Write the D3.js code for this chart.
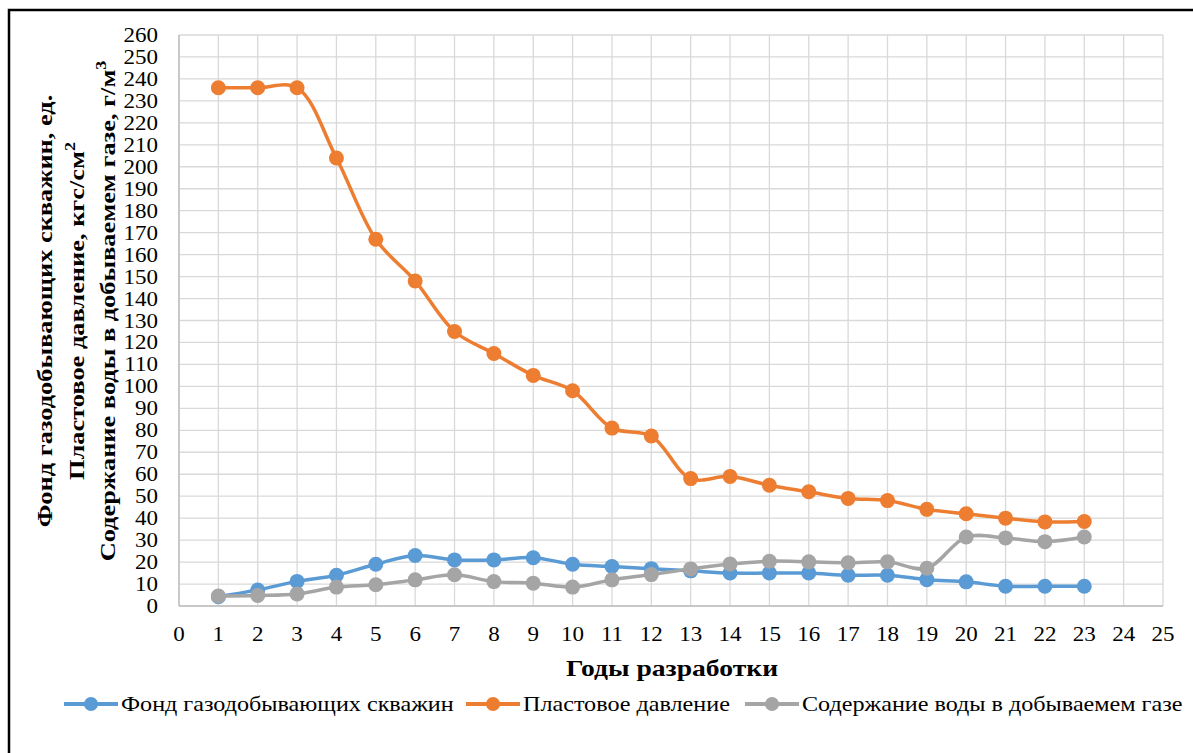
<!DOCTYPE html>
<html>
<head>
<meta charset="utf-8">
<script src="https://cdn.jsdelivr.net/npm/d3@7"></script>
</head>
<body style="margin:0">
<div id="chart"></div>
<script>
// years and values
const years = d3.range(1, 24);
const wells = [4.2, 7.3, 11.2, 14, 19, 23, 21, 21, 22, 19, 18, 17, 16, 15, 15, 15, 14, 14, 12, 11, 9, 9, 9];
const pressure = [236, 236, 236, 204, 167, 148, 125, 115, 105, 98, 81, 77.4, 58, 59, 55, 52, 49, 48, 44, 42, 40, 38.3, 38.5];
const water = [4.5, 4.8, 5.5, 8.6, 9.7, 11.9, 14.2, 11.1, 10.4, 8.6, 11.9, 14.3, 16.9, 19.1, 20.4, 20.1, 19.7, 20.1, 17.2, 31.4, 31, 29.3, 31.4];
const seriesNames = ["Фонд газодобывающих скважин", "Пластовое давление", "Содержание воды в добываемем газе"];
const colors = ["#5B9BD5", "#ED7D31", "#A5A5A5"];

const serif = "Liberation Serif";
const sx = 1.15; // the source text is a bit wider than the font

let width = 1193,
    height = 753,
    margin = ({top: 35, right: 30, bottom: 147, left: 179});

const svg = d3.select("#chart")
    .append("svg")
    .attr("width", width)
    .attr("height", height)
    .attr("font-family", serif);

// outer frame
svg.append("rect")
    .attr("x", 9).attr("y", 10)
    .attr("width", width).attr("height", height)
    .attr("fill", "none")
    .attr("stroke", "#000")
    .attr("stroke-width", 2.5);

let x = d3.scaleLinear()
    .domain([0, 25])
    .range([margin.left, 1163]);

let y = d3.scaleLinear()
    .domain([0, 260])
    .range([606, margin.top]);

// grid
svg.append("g")
    .selectAll("line")
    .data(d3.range(0, 261, 10))
    .join("line")
    .attr("x1", x(0)).attr("x2", x(25))
    .attr("y1", d => y(d)).attr("y2", d => y(d))
    .attr("stroke", "#d9d9d9")
    .attr("stroke-width", 1.3);

svg.append("g")
    .selectAll("line")
    .data(d3.range(0, 26))
    .join("line")
    .attr("x1", d => x(d)).attr("x2", d => x(d))
    .attr("y1", y(0)).attr("y2", y(260))
    .attr("stroke", "#d9d9d9")
    .attr("stroke-width", 1.3);

// axis lines
svg.append("line")
    .attr("x1", x(0)).attr("x2", x(25))
    .attr("y1", y(0)).attr("y2", y(0))
    .attr("stroke", "#bfbfbf").attr("stroke-width", 1.5);
svg.append("line")
    .attr("x1", x(0)).attr("x2", x(0))
    .attr("y1", y(0)).attr("y2", y(260))
    .attr("stroke", "#bfbfbf").attr("stroke-width", 1.5);

// tick labels
svg.append("g")
    .selectAll("text")
    .data(d3.range(0, 261, 10))
    .join("text")
    .attr("transform", d => `translate(158,${y(d) + 7}) scale(${sx},1)`)
    .attr("text-anchor", "end")
    .attr("font-size", 20)
    .text(d => d);

svg.append("g")
    .selectAll("text")
    .data(d3.range(0, 26))
    .join("text")
    .attr("transform", d => `translate(${x(d)},641) scale(${sx},1)`)
    .attr("text-anchor", "middle")
    .attr("font-size", 20)
    .text(d => d);

// axis titles
svg.append("text")
    .attr("transform", `translate(672,676) scale(${sx},1)`)
    .attr("text-anchor", "middle")
    .attr("font-size", 24)
    .attr("font-weight", "bold")
    .text("Годы разработки");

const yTitle = svg.append("text")
    .attr("transform", "translate(0,311) rotate(-90) scale(1.2,1)")
    .attr("text-anchor", "middle")
    .attr("font-size", 22)
    .attr("font-weight", "bold");

yTitle.append("tspan").attr("x", 0).attr("y", 52)
    .text("Фонд газодобывающих скважин, ед.");
const l2 = yTitle.append("tspan").attr("x", 0).attr("y", 84);
l2.append("tspan").text("Пластовое давление, кгс/см");
l2.append("tspan").attr("dy", -9).attr("font-size", 15).text("2");
const l3 = yTitle.append("tspan").attr("x", 0).attr("y", 115);
l3.append("tspan").text("Содержание воды в добываемем газе, г/м");
l3.append("tspan").attr("dy", -9).attr("font-size", 15).text("3");

// series
const allSeries = [wells, pressure, water];

const line = d3.line()
    .x((d, i) => x(years[i]))
    .y(d => y(d))
    .curve(d3.curveCatmullRom);

allSeries.forEach((vals, k) => {
    svg.append("path")
        .datum(vals)
        .attr("fill", "none")
        .attr("stroke", colors[k])
        .attr("stroke-width", 3.5)
        .attr("stroke-linejoin", "round")
        .attr("d", line);

    svg.append("g")
        .selectAll("circle")
        .data(vals)
        .join("circle")
        .attr("cx", (d, i) => x(years[i]))
        .attr("cy", d => y(d))
        .attr("r", 7.5)
        .attr("fill", colors[k]);
});

// legend
const legendX = [64, 466, 745];
const legend = svg.append("g")
    .selectAll("g")
    .data(seriesNames)
    .join("g")
    .attr("transform", (d, i) => `translate(${legendX[i]},704)`);

legend.append("line")
    .attr("x1", 0).attr("x2", 54)
    .attr("stroke", (d, i) => colors[i])
    .attr("stroke-width", 4);
legend.append("circle")
    .attr("cx", 27)
    .attr("r", 7)
    .attr("fill", (d, i) => colors[i]);
legend.append("text")
    .attr("transform", `translate(57,7) scale(${sx},1)`)
    .attr("font-size", 21)
    .text(d => d);
</script>
</body>
</html>
